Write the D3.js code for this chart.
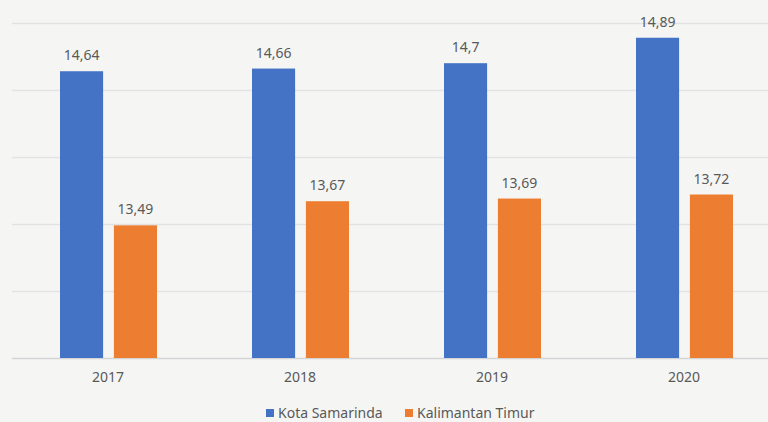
<!DOCTYPE html>
<html>
<head>
<meta charset="utf-8">
<style>
  body { margin: 0; background: #f5f6f4; }
  svg { display: block; font-family: "Noto Sans", "Open Sans", sans-serif; }
</style>
<script src="https://d3js.org/d3.v7.min.js"></script>
</head>
<body>
<div id="chart"></div>
<script>
// data
var years = ["2017", "2018", "2019", "2020"];
var seriesNames = ["Kota Samarinda", "Kalimantan Timur"];
var samarinda = [14.64, 14.66, 14.7, 14.89];
var kaltim = [13.49, 13.67, 13.69, 13.72];
var colors = ["#4472c4", "#ed7d31"];
var gridTicks = [12.5, 13, 13.5, 14, 14.5, 15];

var width = 768, height = 422;
var baseY = 358, topY = 23;

var svg = d3.select("#chart").append("svg")
  .attr("width", width)
  .attr("height", height);

var x0 = d3.scaleBand().domain(years).range([12, 780]).padding(0);
var x1 = d3.scaleBand().domain(seriesNames).range([48, 145]).paddingInner(0.2);
var y = d3.scaleLinear().domain([12.5, 15]).range([baseY, topY]);

// gridlines
svg.append("g").selectAll("line")
  .data(gridTicks)
  .enter().append("line")
  .attr("x1", 12).attr("x2", width)
  .attr("y1", function(d) { return Math.round(y(d)) + 0.5; })
  .attr("y2", function(d) { return Math.round(y(d)) + 0.5; })
  .attr("stroke", function(d) { return d === 12.5 ? "#d4d4d4" : "#e2e2e2"; })
  .attr("stroke-width", 1.5);

var rows = years.map(function(yr, i) {
  return { year: yr, vals: [samarinda[i], kaltim[i]] };
});

var groups = svg.selectAll(".grp")
  .data(rows)
  .enter().append("g")
  .attr("class", "grp")
  .attr("transform", function(d) { return "translate(" + x0(d.year) + ",0)"; });

groups.selectAll("rect")
  .data(function(d) { return d.vals.map(function(v, j) { return { name: seriesNames[j], v: v, j: j }; }); })
  .enter().append("rect")
  .attr("x", function(d) { return x1(d.name); })
  .attr("y", function(d) { return y(d.v); })
  .attr("width", x1.bandwidth())
  .attr("height", function(d) { return baseY - y(d.v); })
  .attr("fill", function(d) { return colors[d.j]; });

groups.selectAll("text.val")
  .data(function(d) { return d.vals.map(function(v, j) { return { name: seriesNames[j], v: v }; }); })
  .enter().append("text")
  .attr("class", "val")
  .attr("x", function(d) { return x1(d.name) + x1.bandwidth() / 2; })
  .attr("y", function(d) { return y(d.v) - 11; })
  .attr("text-anchor", "middle")
  .attr("font-size", 14)
  .attr("fill", "#595959")
  .text(function(d) { return String(d.v).replace(".", ","); });

// x axis labels
var xAxis = d3.axisBottom(x0).tickSize(0).tickPadding(14);
var ax = svg.append("g")
  .attr("transform", "translate(0," + baseY + ")")
  .call(xAxis);
ax.select(".domain").remove();
ax.selectAll("text")
  .attr("font-size", 14)
  .attr("font-family", "Noto Sans, sans-serif")
  .attr("fill", "#595959");

// legend
var legendX = [266, 405];
var legend = svg.selectAll(".leg")
  .data(seriesNames)
  .enter().append("g")
  .attr("class", "leg")
  .attr("transform", function(d, i) { return "translate(" + legendX[i] + ",409)"; });
legend.append("rect")
  .attr("width", 8).attr("height", 8)
  .attr("fill", function(d, i) { return colors[i]; });
legend.append("text")
  .attr("x", 12).attr("y", 9)
  .attr("font-size", 14)
  .attr("fill", "#595959")
  .text(function(d) { return d; });
</script>
</body>
</html>
